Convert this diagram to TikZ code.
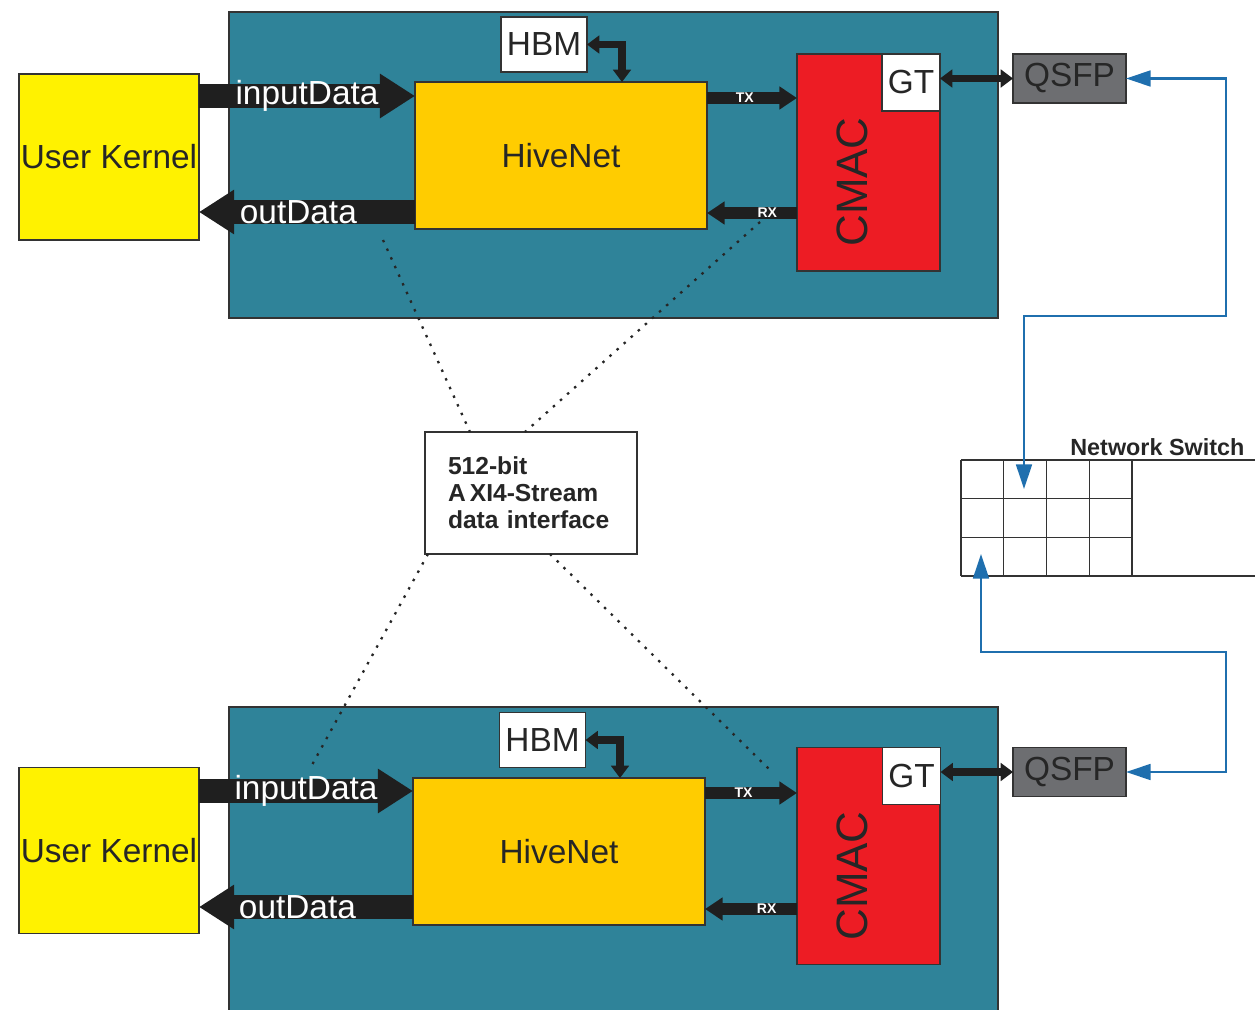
\documentclass[tikz,border=0pt]{standalone}
\usepackage{fontspec}
\setmainfont{Liberation Sans}
\usetikzlibrary{arrows.meta,positioning}

\definecolor{fpgateal}{RGB}{47,131,153}
\definecolor{kernelyellow}{RGB}{255,242,0}
\definecolor{hiveorange}{RGB}{255,204,0}
\definecolor{cmacred}{RGB}{237,28,36}
\definecolor{qsfpgray}{RGB}{109,110,113}
\definecolor{netblue}{RGB}{31,111,174}

\begin{document}
\begin{tikzpicture}[x=0.02cm, y=-0.02cm,
    every node/.style={font=\fontsize{19}{22}\selectfont, text=black!85},
    box/.style={draw=black!80, line width=0.8pt, inner sep=0pt, outer sep=0pt},
    fpga/.style={box, fill=fpgateal, minimum width=15.38cm, minimum height=6.12cm},
    kernel/.style={box, fill=kernelyellow, minimum width=3.6cm, minimum height=3.32cm},
    hive/.style={box, fill=hiveorange, minimum width=5.84cm, minimum height=2.94cm},
    hbm/.style={box, fill=white, minimum width=1.72cm, minimum height=1.1cm},
    cmac/.style={box, fill=cmacred, minimum width=2.86cm, minimum height=4.34cm},
    gt/.style={box, fill=white, minimum width=1.16cm, minimum height=1.14cm},
    qsfp/.style={box, fill=qsfpgray, minimum width=2.26cm, minimum height=0.98cm},
    bigflow/.style={draw=black!88, line width=13.6pt, -{Triangle[length=20pt, width=24pt]}},
    smallflow/.style={draw=black!88, line width=6.8pt, -{Triangle[length=10pt, width=12.5pt]}},
    memlink/.style={draw=black!88, line width=4.5pt,
      {Triangle[length=7pt, width=10pt]}-{Triangle[length=7pt, width=10pt]}},
    netlink/.style={draw=netblue, line width=1.3pt,
      {Triangle[length=14pt, width=9pt]}-{Triangle[length=14pt, width=9pt]}},
    flowlabel/.style={text=white, font=\fontsize{19}{22}\selectfont},
    tinylabel/.style={text=white, font=\bfseries\fontsize{8}{9}\selectfont},
    tap/.style={draw=black!85, line width=1.3pt, dash pattern=on 1.4pt off 4pt},
    gridline/.style={draw=black!80, line width=0.7pt}
  ]
  \useasboundingbox (0,0) rectangle (1255,1010);

  % FPGA boards
  \node[fpga] (fpgaA) at (613.5,165) {};
  \node[fpga, minimum height=6.2cm] (fpgaB) at (613.5,862) {};

  % taps to the stream interface
  \node[box, fill=white, minimum width=4.24cm, minimum height=2.44cm,
        inner xsep=0.46cm, text width=3.32cm, align=left,
        font=\bfseries\fontsize{14}{15.3}\selectfont] (axis) at (531,493)
        {512-bit\\A\,XI4-Stream\\data interface};
  \coordinate (tapA1) at (383,240);
  \coordinate (tapA2) at (760,222);
  \coordinate (tapB1) at (312,765);
  \coordinate (tapB2) at (770,770);
  \draw[tap] (tapA1) -- (470,0 |- axis.north);
  \draw[tap] (tapA2) -- (525,0 |- axis.north);
  \draw[tap] (428,0 |- axis.south) -- (tapB1);
  \draw[tap] (550,0 |- axis.south) -- (tapB2);

  % top node
  \node[kernel] (kernelA) at (109,157) {User Kernel};
  \node[hbm] (hbmA) at (544,44.5) {HBM};
  \node[hive] (hiveA) at (561,155.5) {HiveNet};
  \node[cmac] (cmacA) at (868.5,162.5) {};
  \node[rotate=90, font=\fontsize{25}{28}\selectfont] (cmacAlbl) at (852,182) {CMAC};
  \node[gt] (gtA) at (911,82.5) {GT};
  \node[qsfp] (qsfpA) at (1069.5,78.5) {QSFP};

  \draw[bigflow] (kernelA.east |- 0,96) -- (hiveA.west |- 0,96)
    node[midway, flowlabel] {inputData};
  \draw[bigflow] (hiveA.west |- 0,212) -- (kernelA.east |- 0,212)
    node[pos=0.54, flowlabel] {outData};
  \draw[smallflow] (hiveA.east |- 0,98) -- (cmacA.west |- 0,98)
    node[pos=0.42, tinylabel] {TX};
  \draw[smallflow] (cmacA.west |- 0,213) -- (hiveA.east |- 0,213)
    node[pos=0.33, tinylabel] {RX};
  \draw[memlink] (hbmA.east) -| (622,0 |- hiveA.north);
  \draw[memlink] (qsfpA.west -| gtA.east) -- (qsfpA.west);

  % bottom node
  \node[kernel] (kernelB) at (109,850.5) {User Kernel};
  \node[hbm] (hbmB) at (542.5,740) {HBM};
  \node[hive] (hiveB) at (559,851.5) {HiveNet};
  \node[cmac] (cmacB) at (868.5,856) {};
  \node[rotate=90, font=\fontsize{25}{28}\selectfont] (cmacBlbl) at (852,876) {CMAC};
  \node[gt] (gtB) at (911.5,776) {GT};
  \node[qsfp] (qsfpB) at (1069.5,772) {QSFP};

  \draw[bigflow] (kernelB.east |- 0,791) -- (hiveB.west |- 0,791)
    node[midway, flowlabel] {inputData};
  \draw[bigflow] (hiveB.west |- 0,907) -- (kernelB.east |- 0,907)
    node[pos=0.54, flowlabel] {outData};
  \draw[smallflow] (hiveB.east |- 0,793) -- (cmacB.west |- 0,793)
    node[pos=0.42, tinylabel] {TX};
  \draw[smallflow] (cmacB.west |- 0,909) -- (hiveB.east |- 0,909)
    node[pos=0.33, tinylabel] {RX};
  \draw[memlink] (hbmB.east) -| (620,0 |- hiveB.north);
  \draw[memlink] (qsfpB.west -| gtB.east) -- (qsfpB.west);

  % network switch
  \node[anchor=west, inner sep=0pt, font=\bfseries\fontsize{13.3}{15}\selectfont] (switchlbl)
    at (1070,447) {Network Switch};
  \foreach \gx in {961,1003.75,1046.5,1089.25,1132}
    \draw[gridline] (\gx,460) -- (\gx,576);
  \foreach \gy in {460,498.67,537.33,576}
    \draw[gridline] (961,\gy) -- (1132,\gy);
  \draw[gridline] (1132,460) -- (1280,460) (1132,576) -- (1280,576);
  \coordinate (portA) at (1024,489);
  \coordinate (portB) at (981,554);

  \draw[netlink] (qsfpA.east) -| (1226,316) -| (portA);
  \draw[netlink] (portB) |- (1226,652) |- (qsfpB.east);
\end{tikzpicture}
\end{document}
